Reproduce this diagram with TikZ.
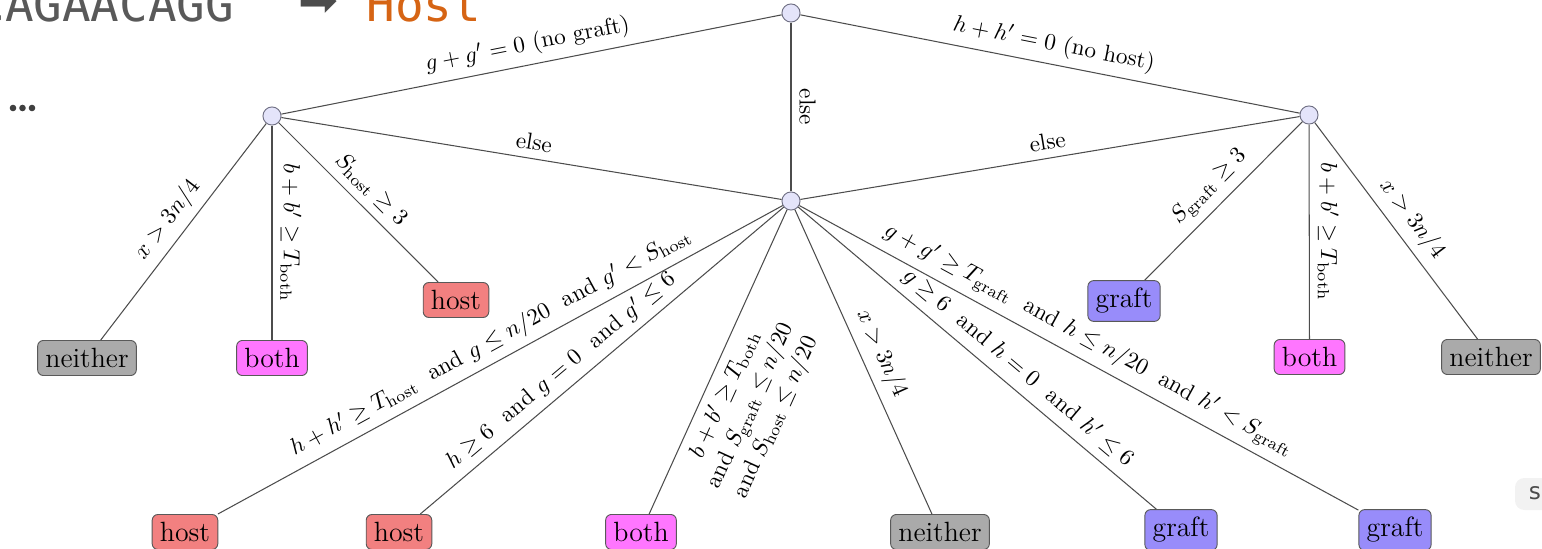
\documentclass[tikz,border=0pt]{standalone}
\usepackage{amsmath}
\usepackage{amssymb}
\usepackage{fontspec}
\newfontfamily\uisans{DejaVu Sans}
\newfontfamily\uimono{DejaVu Sans Mono}
\definecolor{splitfill}{RGB}{228,228,250}
\definecolor{splitline}{RGB}{110,110,130}
\definecolor{hostfill}{RGB}{242,128,128}
\definecolor{graftfill}{RGB}{152,140,250}
\definecolor{bothfill}{RGB}{255,118,255}
\definecolor{neitherfill}{RGB}{170,170,170}
\definecolor{hostorange}{RGB}{214,100,20}

\begin{document}
\begin{tikzpicture}[x=0.01515cm, y=-0.01515cm,
		      split/.style={circle, draw=splitline, fill=splitfill, minimum size=7.8pt, inner sep=0pt},
		      leaf/.style={rectangle, rounded corners=2.5pt, draw=black!65, font=\large, inner sep=3.33pt},
		      hostleaf/.style={leaf, fill=hostfill},
		      graftleaf/.style={leaf, fill=graftfill},
		      bothleaf/.style={leaf, fill=bothfill},
		      neitherleaf/.style={leaf, fill=neitherfill},
		      branch/.style={draw=black!70, line width=0.45pt},
		      cond/.style={midway, sloped}]
		      \useasboundingbox (0,0) rectangle (1542,549);
		      \clip (0,0) rectangle (1542,549);
		      \node[anchor=base west, inner sep=0pt, text=black!65, font=\uimono\fontsize{20.5}{24}\selectfont] (seq) at (-24,22) {CAGAACAGG};
		      \node[inner sep=0pt, text=black!70, font=\uisans\fontsize{20.5}{24}\selectfont] (arrow) at (318,3) {➡};
		      \node[anchor=base west, inner sep=0pt, text=hostorange, font=\uimono\fontsize{20.5}{24}\selectfont] (answer) at (366,22) {Host};
		      \foreach \dx in {13,22.5,32} \fill[black!75] (\dx,108) circle (3.3);
		      \fill[black!5, rounded corners=4pt] (1515,478) rectangle (1560,510);
		      \node[text=black!70, font=\uisans\fontsize{10}{12}\selectfont] (more) at (1535,493) {s};

		      \node[split] (root) at (791,13) {};
		      \node[split] (nograft) at (272,116) {};
		      \node[split] (nohost) at (1309,115) {};
		      \node[split] (mixed) at (791,201) {};

		      \node[neitherleaf] (ga) at (87,358) {neither};
		      \node[bothleaf] (gb) at (272,358) {both};
		      \node[hostleaf] (gc) at (456,300) {host};
		      \node[graftleaf] (ha) at (1124,301) {graft};
		      \node[bothleaf] (hb) at (1309.5,357) {both};
		      \node[neitherleaf] (hc) at (1491,357) {neither};
		      \node[hostleaf] (ma) at (185,532) {host};
		      \node[hostleaf] (mb) at (399,532) {host};
		      \node[bothleaf] (mc) at (641,532) {both};
		      \node[neitherleaf] (md) at (940,532) {neither};
		      \node[graftleaf] (me) at (1181,530) {graft};
		      \node[graftleaf] (mf) at (1395,530) {graft};

		      \draw[branch] (root) -- node[cond, above] {$g+g'=0$ (no graft)} (nograft);
		      \draw[branch] (root) -- node[cond, above] {$h+h'=0$ (no host)} (nohost);
		      \draw[branch] (root) -- node[cond, above] {else} (mixed);
		      \draw[branch] (nograft) -- node[cond, above] {else} (mixed);
		      \draw[branch] (nohost) -- node[cond, above] {else} (mixed);

		      \draw[branch] (nograft) -- node[cond, above] {$x>3n/4$} (ga);
		      \draw[branch] (nograft) -- node[cond, above] {$b+b'\geq T_{\text{both}}$} (gb);
		      \draw[branch] (nograft) -- node[cond, above] {$S_{\text{host}}\geq 3$} (gc);
		      \draw[branch] (nohost) -- node[cond, above] {$S_{\text{graft}}\geq 3$} (ha);
		      \draw[branch] (nohost) -- node[cond, above] {$b+b'\geq T_{\text{both}}$} (hb);
		      \draw[branch] (nohost) -- node[cond, above] {$x>3n/4$} (hc);

		      \draw[branch] (mixed) -- node[cond, above] {$h+h'\geq T_{\text{host}}$\ \ and $g\leq n/20$\ \ and $g'<S_{\text{host}}$} (ma);
		      \draw[branch] (mixed) -- node[cond, above, pos=0.58] {$h\geq 6$\ \ and $g=0$\ \ and $g'\leq 6$} (mb);
		      \draw[branch] (mixed) -- node[cond, below, pos=0.58, align=center] {$b+b'\geq T_{\text{both}}$\\ and $S_{\text{graft}}\leq n/20$\\ and $S_{\text{host}}\leq n/20$} (mc);
		      \draw[branch] (mixed) -- node[cond, above] {$x>3n/4$} (md);
		      \draw[branch] (mixed) -- node[cond, above, pos=0.58] {$g\geq 6$\ \ and $h=0$\ \ and $h'\leq 6$} (me);
		      \draw[branch] (mixed) -- node[cond, above] {$g+g'\geq T_{\text{graft}}$\ \ and $h\leq n/20$\ \ and $h'<S_{\text{graft}}$} (mf);
	      \end{tikzpicture}
\end{document}
